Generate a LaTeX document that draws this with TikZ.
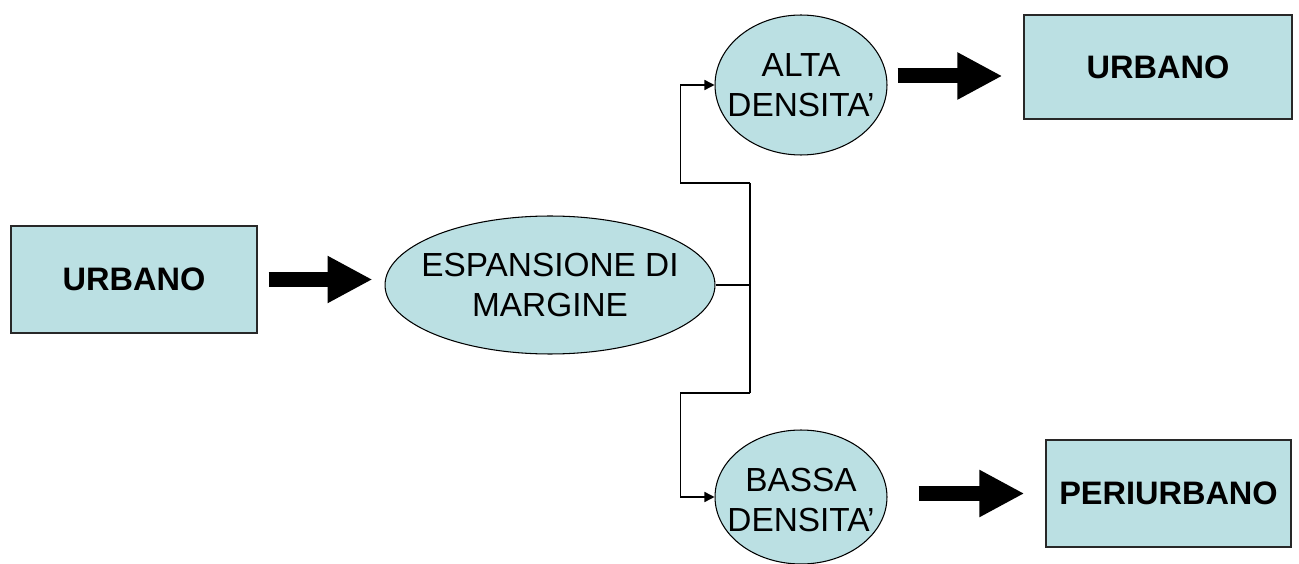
\documentclass[tikz,border=0pt]{standalone}
\usepackage{fontspec}
\setmainfont{Liberation Sans}
\usepackage{xcolor}
\usepackage{tikz}
\usetikzlibrary{positioning,arrows.meta,shapes.geometric,calc}
\definecolor{pptfill}{HTML}{BBE0E3}
\definecolor{rim}{RGB}{40,40,40}

\begin{document}
\begin{tikzpicture}[
  x=0.02cm, y=-0.02cm,
  box/.style={draw=rim, line width=0.7pt, fill=pptfill, inner sep=0pt,
              font=\fontsize{18.5}{22}\selectfont\bfseries},
  oval/.style={ellipse, draw=black, line width=0.6pt, fill=pptfill, inner sep=0pt},
  ovaltext/.style={align=center, inner sep=0pt, font=\fontsize{19}{23}\selectfont},
  fat/.style={line width=0.3cm, -{Triangle[length=0.9cm, width=0.88cm]}},
  link/.style={line width=0.8pt},
  linkarr/.style={link, -{Triangle[length=0.2cm, width=0.2cm]}}
]
\useasboundingbox (0,0) rectangle (1299,564);

% boxes
\node[box, minimum width=4.92cm, minimum height=2.14cm] (urbL) at (134,279.5) {URBANO};
\node[box, minimum width=5.36cm, minimum height=2.08cm] (urbR) at (1158,67) {URBANO};
\node[box, minimum width=4.9cm, minimum height=2.14cm]  (peri) at (1168.5,493.5) {PERIURBANO};

% ellipses
\node[oval, minimum width=6.6cm, minimum height=2.76cm]  (esp)   at (550,285) {};
\node[oval, minimum width=3.44cm, minimum height=2.8cm]  (alta)  at (801,85) {};
\node[oval, minimum width=3.44cm, minimum height=2.68cm] (bassa) at (801,497) {};
\node[ovaltext] (espT)   at (esp)   {ESPANSIONE DI\\MARGINE};
\node[ovaltext] (altaT)  at (alta)  {ALTA\\DENSITA’};
\node[ovaltext] (bassaT) at (801,500) {BASSA\\DENSITA’};

% fork
\coordinate (fork) at (750,285);
\coordinate (up)   at (750,183);
\coordinate (dn)   at (750,393);

\draw[link] (esp.east) -- (fork);
\draw[link] (up) -- (dn);
\draw[linkarr] (up) -| ($(alta.west)+(-34,0)$) -- (alta.west);
\draw[linkarr] (dn) -| ($(bassa.west)+(-34,0)$) -- (bassa.west);

% block arrows
\draw[fat, shorten <=0.22cm, shorten >=0.24cm] (urbL.east) -- (urbL.east -| esp.west);
\draw[fat, shorten <=0.2cm, shorten >=0.42cm] ($(alta.east)+(0,-9)$) -- ($(alta.east -| urbR.west)+(0,-9)$);
\draw[fat, shorten <=0.62cm, shorten >=0.42cm] (bassa.east |- peri.west) -- (peri.west);

\end{tikzpicture}
\end{document}
